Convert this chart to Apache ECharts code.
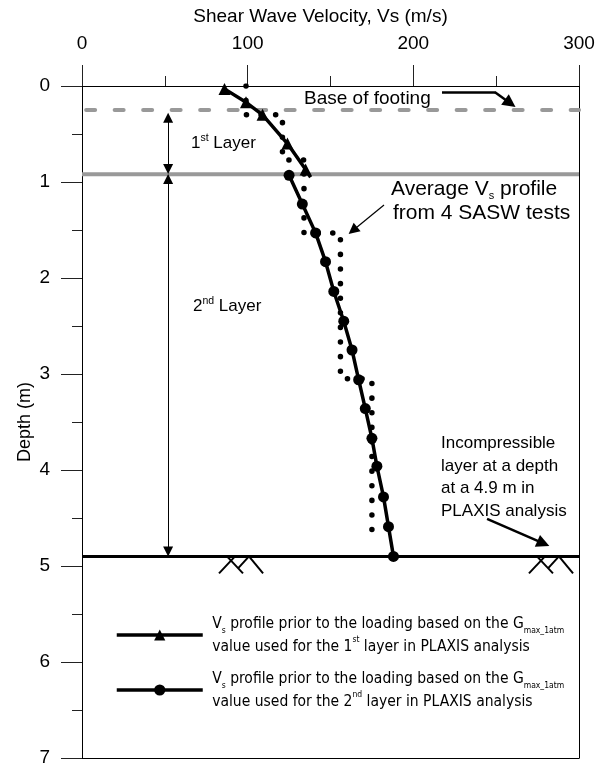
<!DOCTYPE html>
<html><head><meta charset="utf-8">
<script src="https://cdn.jsdelivr.net/npm/echarts@6/dist/echarts.min.js"></script>
<style>html,body{margin:0;padding:0;background:#fff}#c{width:604px;height:765px}</style>
</head><body><div id="c"></div><script>
// ---------------- data ----------------
const xTickInterval = 100;
const xMin = 0, xMax = 300;
const yMin = 0, yMax = 7;
// Vs profile, 1st layer (triangles)
const layer1Vs    = [86, 99, 109, 124, 135, 138];
const layer1Depth = [0.03, 0.17, 0.30, 0.60, 0.87, 0.95];
// Vs profile, 2nd layer (circles)
const layer2Vs    = [125, 133, 141, 147, 152, 158, 163, 167, 171, 175, 178, 182, 185, 188];
const layer2Depth = [0.93, 1.23, 1.53, 1.83, 2.14, 2.45, 2.75, 3.06, 3.36, 3.67, 3.96, 4.28, 4.59, 4.90];
// Average Vs profile from 4 SASW tests (step profile)
const saswVs     = [99, 121, 134, 156, 175];
const saswTop    = [0, 0.30, 0.77, 1.53, 3.05];
const saswBottom = 4.75;
// reference depths
const footingDepth = 0.25;
const layer1Bottom = 0.92;
const incompressibleDepth = 4.9;
// annotation anchors (data units)
const layerArrowVs = 52;
const hatchAnchorsVs = [82.7, 269.8];

// ---------------- build ----------------
const F = '"Liberation Sans", Arial, sans-serif';
const FN = '"Liberation Sans Narrow", "Arial Narrow", "DejaVu Sans Condensed", "Liberation Sans", sans-serif';
const zip = (a, b) => a.map((v, i) => [v, b[i]]);
const saswData = [];
saswVs.forEach((v, i) => {
  const bot = i < saswVs.length - 1 ? saswTop[i + 1] : saswBottom;
  saswData.push([v, saswTop[i]], [v, bot]);
});
const layer1Data = zip(layer1Vs, layer1Depth).map((p, i) =>
  i === layer1Vs.length - 1 ? { value: p, symbol: 'none' } : p);
const layer2Data = zip(layer2Vs, layer2Depth);

// hatch shape (offsets in data units)
const hatchShape = [
  [[0, 0.177], [9.66, 0]],
  [[4.83, 0], [14.49, 0.177]],
  [[11.47, 0.125], [18.1, 0]],
  [[18.1, 0], [26.6, 0.177]]
];
const hatchData = [];
hatchAnchorsVs.forEach(a => hatchShape.forEach(s => hatchData.push({
  coords: s.map(p => [a + p[0], incompressibleDepth + p[1]])
})));

const blackAxis = { show: true, onZero: false, lineStyle: { color: '#000', width: 1 } };

const option = {
  animation: false,
  backgroundColor: '#fff',
  grid: { left: 82, right: 25, top: 86, bottom: 7, outerBoundsMode: 'none' },
  xAxis: [{
    type: 'value', position: 'top', min: xMin, max: xMax, interval: xTickInterval,
    name: 'Shear Wave Velocity, Vs (m/s)', nameLocation: 'middle', nameGap: 60,
    nameTextStyle: { fontSize: 19, fontFamily: F, color: '#000', padding: [0, 20, 0, 0] },
    axisLine: blackAxis,
    axisTick: { show: true, length: 21, lineStyle: { color: '#222' } },
    minorTick: { show: true, splitNumber: 2, length: 10, lineStyle: { color: '#222' } },
    axisLabel: { fontSize: 19, fontFamily: F, color: '#000', margin: 33 },
    splitLine: { show: false }
  }, {
    type: 'value', position: 'bottom', min: xMin, max: xMax,
    axisLine: blackAxis, axisTick: { show: false }, axisLabel: { show: false }, splitLine: { show: false }
  }],
  yAxis: [{
    type: 'value', inverse: true, min: yMin, max: yMax, interval: 1,
    name: 'Depth (m)', nameLocation: 'middle', nameGap: 48, nameRotate: 90, nameMoveOverlap: false,
    nameTextStyle: { fontSize: 18, fontFamily: F, color: '#000' },
    axisLine: blackAxis,
    axisTick: { show: true, length: 21, lineStyle: { color: '#222' } },
    minorTick: { show: true, splitNumber: 2, length: 10, lineStyle: { color: '#222' } },
    axisLabel: { fontSize: 19, fontFamily: F, color: '#000', margin: 32 },
    splitLine: { show: false }
  }, {
    type: 'value', position: 'right', inverse: true, min: yMin, max: yMax,
    axisLine: blackAxis, axisTick: { show: false }, axisLabel: { show: false }, splitLine: { show: false }
  }],
  legend: {
    data: ['layer1', 'layer2'], orient: 'vertical', left: 115, top: 612, itemGap: 9, padding: 0,
    itemWidth: 86, itemHeight: 14, selectedMode: false,
    lineStyle: { width: 3.5, color: '#000' },
    formatter: n => n === 'layer1'
      ? ' V{sub|s} profile prior to the loading based on the G{sub|max_1atm}\n value used for the 1{sup|st} layer in PLAXIS analysis'
      : ' V{sub|s} profile prior to the loading based on the G{sub|max_1atm}\n value used for the 2{sup|nd} layer in PLAXIS analysis',
    textStyle: {
      fontFamily: FN, fontSize: 15.5, color: '#000', lineHeight: 23,
      rich: {
        sub: { fontFamily: FN, fontSize: 8.5, lineHeight: 12, verticalAlign: 'bottom', color: '#000' },
        sup: { fontFamily: FN, fontSize: 8.5, lineHeight: 12, verticalAlign: 'top', color: '#000' }
      }
    }
  },
  series: [
    { type: 'line', name: 'footing', data: [[2.5, footingDepth], [xMax, footingDepth]], symbol: 'none', silent: true, z: 1,
      lineStyle: { color: '#999', width: 4, type: [9, 19.5], cap: 'round' } },
    { type: 'line', name: 'layerline', data: [[xMin, layer1Bottom], [xMax, layer1Bottom]], symbol: 'none', silent: true, z: 1,
      lineStyle: { color: '#999', width: 4 } },
    { type: 'line', name: 'incompressible', data: [[xMin, incompressibleDepth], [xMax, incompressibleDepth]], symbol: 'none', silent: true, z: 1,
      lineStyle: { color: '#000', width: 3 } },
    { type: 'line', name: 'sasw', data: saswData, symbol: 'none', silent: true, z: 2,
      lineStyle: { color: '#000', width: 5.5, type: [0.1, 14.5], cap: 'round' } },
    { type: 'line', name: 'layer1', data: layer1Data, symbol: 'triangle', symbolSize: 12, z: 3,
      itemStyle: { color: '#000' }, lineStyle: { color: '#000', width: 3.5 } },
    { type: 'line', name: 'layer2', data: layer2Data, symbol: 'circle', symbolSize: 11, z: 3,
      itemStyle: { color: '#000' }, lineStyle: { color: '#000', width: 3.5 } },
    // layer thickness double arrows
    { type: 'lines', coordinateSystem: 'cartesian2d', silent: true, z: 4,
      symbol: ['triangle', 'triangle'], symbolSize: 10,
      lineStyle: { color: '#000', width: 1, opacity: 1 },
      data: [
        { coords: [[layerArrowVs, 0.33], [layerArrowVs, 0.865]] },
        { coords: [[layerArrowVs, 0.97], [layerArrowVs, 4.85]] }
      ] },
    // thin annotation arrow (SASW)
    { type: 'lines', coordinateSystem: 'cartesian2d', silent: true, z: 4,
      symbol: ['none', 'triangle'], symbolSize: 11,
      lineStyle: { color: '#000', width: 1.2, opacity: 1 },
      data: [{ coords: [[182.3, 1.24], [163.5, 1.505]] }] },
    // thick annotation arrows
    { type: 'lines', coordinateSystem: 'cartesian2d', silent: true, z: 4,
      symbol: ['none', 'triangle'], symbolSize: 13,
      lineStyle: { color: '#000', width: 2.5, opacity: 1 },
      data: [
        { coords: [[249.3, 0.065], [258.5, 0.18]] },
        { coords: [[244.5, 4.51], [278.5, 4.765]] }
      ] },
    { type: 'lines', coordinateSystem: 'cartesian2d', silent: true, z: 4,
      symbol: 'none', lineStyle: { color: '#000', width: 2.5, opacity: 1 },
      data: [{ coords: [[217.3, 0.068], [249.8, 0.068]] }] },
    // hatch under the incompressible layer
    { type: 'lines', coordinateSystem: 'cartesian2d', silent: true, z: 4,
      symbol: 'none', lineStyle: { color: '#000', width: 2, opacity: 1 },
      data: hatchData }
  ],
  graphic: [
    { type: 'text', silent: true, style: { x: 304, y: 99, text: 'Base of footing', fontSize: 19, fontFamily: F, fill: '#000', verticalAlign: 'middle' } },
    { type: 'text', silent: true, style: { x: 191, y: 143, text: '1{sup|st} Layer', fontSize: 17, fontFamily: F, fill: '#000', verticalAlign: 'middle',
      rich: { sup: { fontSize: 10.5, fontFamily: F, lineHeight: 12, verticalAlign: 'top' } }, lineHeight: 21 } },
    { type: 'text', silent: true, style: { x: 193, y: 306, text: '2{sup|nd} Layer', fontSize: 17, fontFamily: F, fill: '#000', verticalAlign: 'middle',
      rich: { sup: { fontSize: 10.5, fontFamily: F, lineHeight: 12, verticalAlign: 'top' } }, lineHeight: 21 } },
    { type: 'text', silent: true, style: { x: 391, y: 189, text: 'Average V{sub|s} profile', fontSize: 21, fontFamily: F, fill: '#000', verticalAlign: 'middle',
      rich: { sub: { fontSize: 11, fontFamily: F, lineHeight: 13, verticalAlign: 'bottom' } }, lineHeight: 24 } },
    { type: 'text', silent: true, style: { x: 393, y: 213, text: 'from 4 SASW tests', fontSize: 21, fontFamily: F, fill: '#000', verticalAlign: 'middle' } },
    { type: 'text', silent: true, style: { x: 441, y: 432, text: 'Incompressible\nlayer at a depth\nat a 4.9 m in\nPLAXIS analysis', fontSize: 17, lineHeight: 22.6, fontFamily: F, fill: '#000', verticalAlign: 'top' } }
  ]
};
const chart = echarts.init(document.getElementById('c'), null, { renderer: 'canvas' });
chart.setOption(option);
</script></body></html>
